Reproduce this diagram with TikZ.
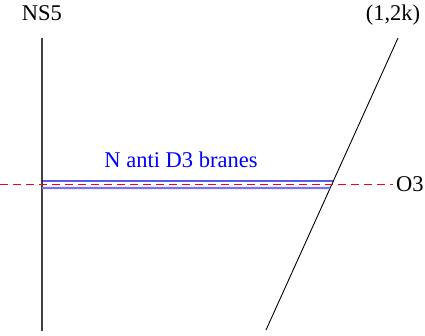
\documentclass[tikz,border=0pt]{standalone}
\usepackage{fontspec}
\setmainfont{Liberation Serif}
\usepackage{xcolor}
\usetikzlibrary{positioning,calc}

\begin{document}
\begin{tikzpicture}[
    x=1pt, y=-1pt,
    lbl/.style={inner sep=0pt, font=\fontsize{22.5}{26}\selectfont},
    brane/.style={draw=black!75, line width=1.2pt},
    dthree/.style={draw=blue!90!black, line width=1.2pt},
    antid/.style={draw=blue!55, line width=2.2pt},
    orient/.style={draw=red, dash pattern=on 8pt off 5pt, line width=1pt}
]
    \useasboundingbox (0,0) rectangle (425,335);

    % five-brane and (1,2k) brane
    \coordinate (ns5top) at (42,38);
    \coordinate (ns5bot) at (42,331);
    \coordinate (pqtop) at (398,38);
    \coordinate (pqbot) at (266,330);
    \draw [brane] (ns5top) -- (ns5bot);
    \draw [draw=black, line width=0.9pt] (pqtop) -- (pqbot);

    \node [lbl, anchor=base] (ns5) at (42,20) {NS5};
    \node [lbl, anchor=base] (pq) at (393,20) {(1,2k)};

    % orientifold plane
    \coordinate (o3left) at (0,184);
    \coordinate (o3right) at (393,184);
    \node [lbl, anchor=west] (o3) at (396,184) {O3};
    \draw [orient] (o3left) -- (o3right);

    % D3 branes
    \coordinate (d3a) at (42,181);
    \coordinate (d3c) at (42,188);
    \draw [dthree] (d3a) -- ($(pqtop)!{(181-38)/292}!(pqbot)$);
    \draw [antid] (d3c) -- ($(pqtop)!{(188-38)/292}!(pqbot)$);
    \node [lbl, text=blue, anchor=base] (anti) at (181,167) {N anti D3 branes};
\end{tikzpicture}
\end{document}
